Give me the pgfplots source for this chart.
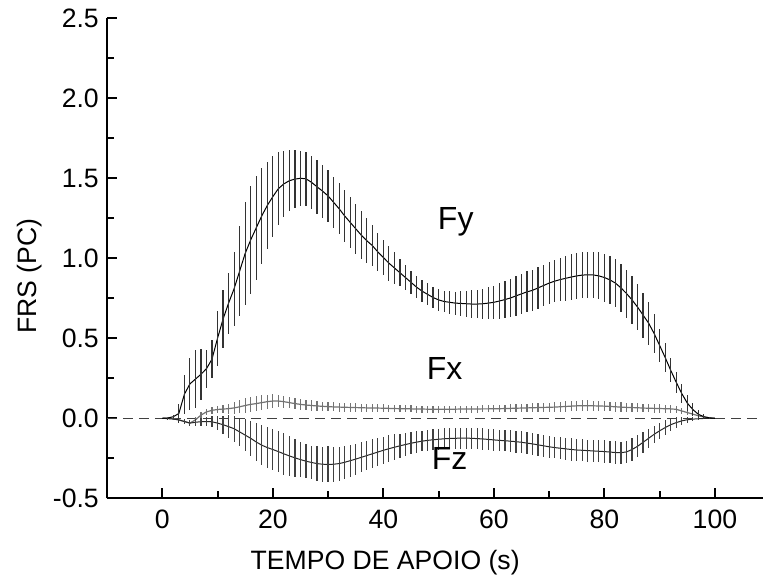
\documentclass[border=0pt]{standalone}
\usepackage{fontspec}
\setmainfont{Liberation Sans}
\usepackage{pgfplots}
\usepackage{pgfplotstable}
\pgfplotsset{compat=1.18}

\pgfplotstableread{
x y e
0 0 0
1 0.002 0.002
2 0.01 0.01
3 0.03 0.06
4 0.15 0.12
5 0.215 0.16
6 0.245 0.18
7 0.275 0.16
8 0.31 0.12
9 0.37 0.12
10 0.50 0.17
11 0.62 0.18
12 0.72 0.19
13 0.81 0.23
14 0.92 0.28
15 1.03 0.32
16 1.115 0.335
17 1.19 0.327
18 1.265 0.30
19 1.33 0.27
20 1.385 0.254
21 1.435 0.228
22 1.465 0.206
23 1.485 0.19
24 1.495 0.18
25 1.50 0.17
26 1.497 0.167
27 1.475 0.167
28 1.447 0.167
29 1.42 0.165
30 1.39 0.16
31 1.35 0.16
32 1.31 0.16
33 1.265 0.16
34 1.225 0.16
35 1.185 0.156
36 1.145 0.15
37 1.11 0.14
38 1.08 0.13
39 1.04 0.12
40 1.005 0.11
41 0.97 0.11
42 0.94 0.10
43 0.91 0.085
44 0.88 0.078
45 0.85 0.072
46 0.82 0.07
47 0.795 0.068
48 0.775 0.068
49 0.755 0.068
50 0.74 0.068
51 0.73 0.068
52 0.725 0.07
53 0.72 0.072
54 0.718 0.077
55 0.716 0.082
56 0.714 0.086
57 0.714 0.09
58 0.716 0.095
59 0.72 0.10
60 0.725 0.105
61 0.733 0.11
62 0.742 0.115
63 0.752 0.12
64 0.765 0.123
65 0.778 0.126
66 0.79 0.128
67 0.80 0.13
68 0.815 0.13
69 0.83 0.13
70 0.845 0.13
71 0.857 0.13
72 0.867 0.135
73 0.875 0.14
74 0.883 0.143
75 0.89 0.146
76 0.895 0.146
77 0.897 0.145
78 0.896 0.145
79 0.89 0.147
80 0.88 0.15
81 0.865 0.15
82 0.845 0.15
83 0.815 0.15
84 0.78 0.15
85 0.74 0.15
86 0.695 0.145
87 0.645 0.14
88 0.595 0.135
89 0.53 0.12
90 0.455 0.105
91 0.38 0.09
92 0.30 0.075
93 0.225 0.065
94 0.155 0.058
95 0.095 0.05
96 0.055 0.04
97 0.025 0.028
98 0.01 0.015
99 0.003 0.005
100 0 0
}\fydata

\pgfplotstableread{
x y e
0 0 0
1 0 0.003
2 -0.002 0.005
3 -0.01 0.01
4 -0.02 0.015
5 -0.03 0.02
6 -0.01 0.02
7 0.02 0.02
8 0.04 0.02
9 0.05 0.02
10 0.055 0.022
11 0.058 0.025
12 0.06 0.03
13 0.065 0.035
14 0.072 0.04
15 0.08 0.045
16 0.087 0.048
17 0.092 0.048
18 0.098 0.046
19 0.104 0.044
20 0.108 0.042
21 0.108 0.04
22 0.104 0.038
23 0.098 0.036
24 0.092 0.035
25 0.087 0.034
26 0.083 0.033
27 0.08 0.032
28 0.077 0.031
29 0.075 0.03
30 0.073 0.029
31 0.071 0.028
32 0.07 0.028
33 0.069 0.027
34 0.068 0.027
35 0.067 0.026
36 0.066 0.025
37 0.065 0.025
38 0.064 0.024
39 0.064 0.024
40 0.063 0.024
41 0.062 0.022
42 0.061 0.022
43 0.06 0.022
44 0.06 0.022
45 0.059 0.022
46 0.058 0.022
47 0.058 0.022
48 0.057 0.022
49 0.057 0.022
50 0.057 0.022
51 0.057 0.022
52 0.057 0.022
53 0.057 0.022
54 0.058 0.022
55 0.058 0.022
56 0.058 0.022
57 0.058 0.022
58 0.059 0.022
59 0.059 0.022
60 0.06 0.022
61 0.06 0.023
62 0.061 0.024
63 0.062 0.025
64 0.063 0.025
65 0.064 0.026
66 0.065 0.026
67 0.066 0.027
68 0.067 0.027
69 0.068 0.028
70 0.069 0.028
71 0.07 0.03
72 0.072 0.031
73 0.074 0.032
74 0.076 0.033
75 0.078 0.033
76 0.079 0.033
77 0.079 0.033
78 0.078 0.033
79 0.077 0.032
80 0.076 0.032
81 0.074 0.031
82 0.072 0.03
83 0.07 0.029
84 0.068 0.028
85 0.067 0.027
86 0.066 0.027
87 0.064 0.026
88 0.063 0.026
89 0.062 0.026
90 0.061 0.026
91 0.06 0.025
92 0.059 0.024
93 0.056 0.022
94 0.046 0.02
95 0.036 0.017
96 0.026 0.013
97 0.016 0.009
98 0.008 0.005
99 0.003 0.002
100 0 0
}\fxdata

\pgfplotstableread{
x y e
0 0 0
1 -0.002 0.002
2 -0.005 0.005
3 -0.01 0.01
4 -0.02 0.015
5 -0.03 0.02
6 -0.025 0.022
7 -0.021 0.025
8 -0.02 0.03
9 -0.022 0.035
10 -0.03 0.045
11 -0.04 0.055
12 -0.052 0.07
13 -0.065 0.08
14 -0.085 0.09
15 -0.105 0.10
16 -0.125 0.11
17 -0.148 0.117
18 -0.168 0.125
19 -0.183 0.13
20 -0.195 0.13
21 -0.208 0.13
22 -0.222 0.13
23 -0.235 0.125
24 -0.247 0.12
25 -0.258 0.11
26 -0.268 0.105
27 -0.276 0.105
28 -0.283 0.108
29 -0.287 0.11
30 -0.288 0.112
31 -0.287 0.11
32 -0.283 0.106
33 -0.275 0.103
34 -0.265 0.10
35 -0.255 0.097
36 -0.244 0.094
37 -0.233 0.092
38 -0.222 0.09
39 -0.211 0.087
40 -0.20 0.085
41 -0.19 0.083
42 -0.181 0.08
43 -0.172 0.077
44 -0.164 0.073
45 -0.156 0.07
46 -0.149 0.067
47 -0.143 0.064
48 -0.138 0.064
49 -0.134 0.065
50 -0.131 0.065
51 -0.128 0.065
52 -0.126 0.065
53 -0.125 0.065
54 -0.124 0.066
55 -0.124 0.066
56 -0.125 0.066
57 -0.127 0.066
58 -0.129 0.067
59 -0.132 0.067
60 -0.135 0.067
61 -0.138 0.067
62 -0.14 0.067
63 -0.143 0.068
64 -0.146 0.068
65 -0.15 0.068
66 -0.155 0.068
67 -0.16 0.068
68 -0.166 0.068
69 -0.172 0.068
70 -0.178 0.068
71 -0.183 0.068
72 -0.187 0.068
73 -0.191 0.069
74 -0.195 0.069
75 -0.198 0.069
76 -0.20 0.069
77 -0.202 0.069
78 -0.204 0.07
79 -0.206 0.07
80 -0.208 0.07
81 -0.211 0.07
82 -0.214 0.07
83 -0.215 0.07
84 -0.21 0.07
85 -0.195 0.07
86 -0.175 0.068
87 -0.15 0.065
88 -0.125 0.06
89 -0.10 0.055
90 -0.078 0.05
91 -0.058 0.045
92 -0.04 0.04
93 -0.027 0.033
94 -0.016 0.026
95 -0.009 0.02
96 -0.005 0.014
97 -0.003 0.009
98 -0.001 0.005
99 0 0.002
100 0 0
}\fzdata

\begin{document}
\begin{tikzpicture}
\begin{axis}[
  at={(0,0)}, anchor=south west,
  width=328bp, height=240bp, scale only axis,
  xmin=-10, xmax=108.7, ymin=-0.5, ymax=2.5,
  axis x line*=bottom, axis y line*=left,
  axis line style={-, line width=1bp, black},
  xtick pos=bottom, ytick pos=left,
  xtick={0,20,40,60,80,100}, minor xtick={10,30,50,70,90},
  ytick={-0.5,0,0.5,1,1.5,2,2.5}, minor ytick={-0.25,0.25,0.75,1.25,1.75,2.25},
  tick align=inside, major tick length=5bp, minor tick length=3.5bp,
  every tick/.style={line width=1bp, black},
  /pgf/number format/assume math mode=true,
  tick label style={font=\fontsize{13.3bp}{16bp}\selectfont},
  xticklabel style={yshift=-2.3bp},
  yticklabel style={xshift=-0.6bp, /pgf/number format/fixed, /pgf/number format/fixed zerofill, /pgf/number format/precision=1},
  xlabel={TEMPO DE APOIO (s)},
  ylabel={FRS (PC)},
  label style={font=\fontsize{13.3bp}{16bp}\selectfont},
  xlabel style={at={(axis description cs:0.424,-0.1473)}, anchor=base},
  ylabel style={at={(axis description cs:-0.1067,0.463)}, anchor=base},
  clip=true,
]
\addplot[black!75, line width=0.5bp, dash pattern=on 5bp off 3bp] coordinates {(-10,0) (108.7,0)};
\addplot[black!55, line width=0.6bp,
  error bars/.cd, y dir=both, y explicit, error mark=none,
  error bar style={line width=0.6bp, black!55}]
  table[x=x, y=y, y error=e] {\fxdata};
\addplot[black!85, line width=0.5bp,
  error bars/.cd, y dir=both, y explicit, error mark=none,
  error bar style={line width=0.6bp, black!75}]
  table[x=x, y=y, y error=e] {\fzdata};
\addplot[black, line width=0.5bp,
  error bars/.cd, y dir=both, y explicit, error mark=none,
  error bar style={line width=0.6bp, black!80}]
  table[x=x, y=y, y error=e] {\fydata};
\node[font=\fontsize{16bp}{19bp}\selectfont, anchor=base] at (axis cs:53.1,1.177) {Fy};
\node[font=\fontsize{16bp}{19bp}\selectfont, anchor=base] at (axis cs:51.1,0.244) {Fx};
\node[font=\fontsize{16bp}{19bp}\selectfont, anchor=base] at (axis cs:52.0,-0.323) {Fz};
\end{axis}
\pgfresetboundingbox
\useasboundingbox (-53.5bp,-41.35bp) rectangle (328bp,249.15bp);
\end{tikzpicture}
\end{document}
